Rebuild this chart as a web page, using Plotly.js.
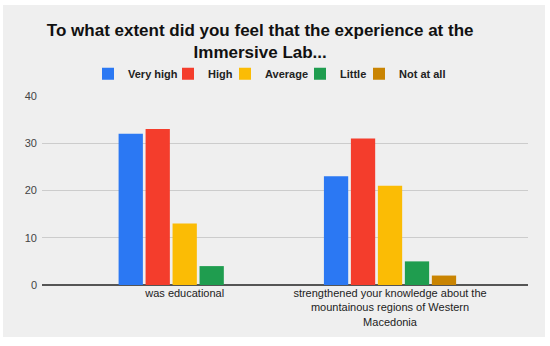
<!DOCTYPE html>
<html>
<head>
<meta charset="utf-8">
<script src="https://cdn.plot.ly/plotly-3.0.1.min.js"></script>
<style>
  html, body { margin: 0; padding: 0; background: #ffffff; }
  #chart { position: absolute; left: 3px; top: 5px; width: 542px; height: 332px; }
</style>
</head>
<body>
<div id="chart"></div>
<script>
const categories = [
  "was educational",
  "strengthened your knowledge about the<br>mountainous regions of Western<br>Macedonia"
];
const seriesNames = ["Very high", "High", "Average", "Little", "Not at all"];
const veryHigh = [32, 23];
const high = [33, 31];
const average = [13, 21];
const little = [4, 5];
const notAtAll = [0, 2];
const seriesValues = [veryHigh, high, average, little, notAtAll];
const colors = ["#2b78f3", "#f43d2c", "#fbbc05", "#1f9d4f", "#c98402"];
const yTicks = [0, 10, 20, 30, 40];

// one legend per series so each entry can sit where the reference has it
const legendIds = ["legend", "legend2", "legend3", "legend4", "legend5"];
const legendTextX = [128, 208, 265, 340, 399]; // page x where each legend label starts

const traces = seriesNames.map((name, i) => ({
  type: "bar",
  name: "<b>" + name + "</b>",
  x: categories,
  y: seriesValues[i],
  marker: { color: colors[i] },
  legend: legendIds[i],
  hoverinfo: "y"
}));

const font = "Arial, Liberation Sans, sans-serif";
const plotLeft = 42, plotWidth = 486;

const layout = {
  width: 542,
  height: 332,
  paper_bgcolor: "#efefef",
  plot_bgcolor: "#efefef",
  margin: { l: 39, r: 17, t: 91, b: 52 },
  title: {
    text: "<b>To what extent did you feel that the experience at the<br>Immersive Lab...</b>",
    font: { family: font, size: 17, color: "#111111" },
    x: 0.4745, xanchor: "center",
    y: 0.907, yanchor: "top"
  },
  barmode: "group",
  bargap: 0.343,
  bargroupgap: 0.1,
  xaxis: {
    type: "category",
    range: [-0.695, 1.672],
    showgrid: false,
    zeroline: false,
    showline: false,
    ticks: "",
    tickfont: { family: font, size: 11, color: "#222222" },
    fixedrange: true
  },
  yaxis: {
    range: [0, 40],
    tickvals: yTicks,
    ticktext: yTicks.map(String),
    showgrid: true,
    gridcolor: "#cccccc",
    gridwidth: 1,
    zeroline: true,
    zerolinecolor: "#555555",
    zerolinewidth: 1.5,
    tickfont: { family: font, size: 11, color: "#444444" },
    ticks: "",
    ticklabelstandoff: 4,
    fixedrange: true
  },
  showlegend: true
};

legendIds.forEach((id, i) => {
  layout[id] = {
    orientation: "h",
    x: (legendTextX[i] - 40 - plotLeft) / plotWidth,
    xanchor: "left",
    y: 1.12 - 0.5 / 191,
    yanchor: "middle",
    font: { family: font, size: 11, color: "#222222" },
    itemwidth: 30,
    bgcolor: "rgba(0,0,0,0)"
  };
});

Plotly.newPlot("chart", traces, layout, { displayModeBar: false, staticPlot: true });
</script>
</body>
</html>
